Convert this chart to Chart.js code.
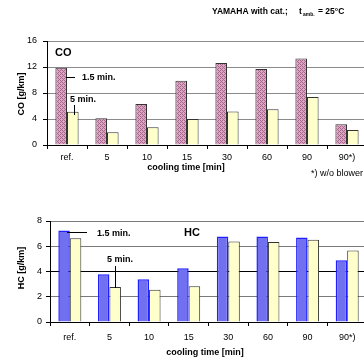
<!DOCTYPE html>
<html>
<head>
<meta charset="utf-8">
<script src="https://cdn.jsdelivr.net/npm/chart.js@4.4.1/dist/chart.umd.min.js"></script>
<style>
  body { margin: 0; background: #fff; overflow: hidden; width: 364px; height: 361px; position: relative; }
  canvas { position: absolute; left: 0; }
  #coChart { top: 0; }
  #hcChart { top: 180px; }
</style>
</head>
<body>
<canvas id="coChart" width="372" height="180"></canvas>
<canvas id="hcChart" width="372" height="181"></canvas>
<script>
// Data
const categories = ['ref.', '5', '10', '15', '30', '60', '90', '90*)'];
const co15 = [11.9, 4.1, 6.3, 9.9, 12.6, 11.7, 13.3, 3.2];
const co5 = [5.1, 1.95, 2.75, 4.0, 5.15, 5.5, 7.4, 2.3];
const hc15 = [7.24, 3.78, 3.39, 4.25, 6.77, 6.77, 6.69, 4.9];
const hc5 = [6.64, 2.78, 2.55, 2.83, 6.38, 6.33, 6.51, 5.67];
const coTicks = [0, 4, 8, 12, 16];
const hcTicks = [0, 2, 4, 6, 8];

const FONT = '"Liberation Sans", Arial, sans-serif';

// hatched pink fill like the original
function pinkPattern() {
    const c = document.createElement('canvas');
    c.width = 4; c.height = 4;
    const g = c.getContext('2d');
    g.fillStyle = '#dca6c2';
    g.fillRect(0, 0, 4, 4);
    g.fillStyle = '#a8678c';
    [[0, 0], [1, 1], [2, 2], [3, 3], [2, 0], [0, 2]].forEach(([x, y]) => g.fillRect(x, y, 1, 1));
    return g.createPattern(c, 'repeat');
}

function text(ctx, str, x, y, font, align) {
    ctx.font = font;
    ctx.textAlign = align || 'left';
    ctx.textBaseline = 'middle';
    ctx.fillStyle = '#000';
    ctx.fillText(str, x, y);
}

function line(ctx, x1, y1, x2, y2) {
    ctx.beginPath();
    ctx.moveTo(x1, y1);
    ctx.lineTo(x2, y2);
    ctx.strokeStyle = '#000';
    ctx.lineWidth = 1;
    ctx.stroke();
}

function vTitle(ctx, str, x, y) {
    ctx.save();
    ctx.translate(x, y);
    ctx.rotate(-Math.PI / 2);
    text(ctx, str, 0, 0, 'bold 9px ' + FONT, 'center');
    ctx.restore();
}

function baseOptions(yMax, step, tickVals, yWidth, xHeight, top, xPad, yPad, gridColor) {
    return {
        responsive: false,
        animation: false,
        layout: { padding: { top: top, right: 5, left: 0, bottom: 0 } },
        plugins: { legend: { display: false }, tooltip: { enabled: false } },
        scales: {
            x: {
                afterFit: s => { s.height = xHeight; },
                grid: { display: true, drawOnChartArea: false, offset: true, tickLength: 4, color: '#000' },
                border: { color: '#000', width: 1 },
                ticks: { color: '#000', padding: xPad, font: { family: FONT, size: 9 }, maxRotation: 0 }
            },
            y: {
                min: 0, max: yMax,
                afterFit: s => { s.width = yWidth; },
                afterBuildTicks: s => { s.ticks = tickVals.map(v => ({ value: v })); },
                grid: { color: gridColor, tickColor: '#000', tickLength: 4, lineWidth: 1 },
                border: { color: '#000', width: 1 },
                ticks: { stepSize: step, color: '#000', padding: yPad, font: { family: FONT, size: 9 } }
            }
        }
    };
}

// CO chart
const coNotes = {
    id: 'coNotes',
    afterDraw(chart) {
        const ctx = chart.ctx;
        const b = 'bold 9px ' + FONT;
        const h = 'bold 8.5px ' + FONT;
        text(ctx, 'YAMAHA with cat.;', 212, 12, h);
        text(ctx, 't', 299, 12, h);
        text(ctx, 'amb.', 303, 14.5, 'bold 5px ' + FONT);
        text(ctx, '= 25°C', 318, 12, h);
        text(ctx, 'CO', 55, 53, 'bold 11px ' + FONT);
        line(ctx, 66, 77.5, 75, 77.5);
        text(ctx, '1.5 min.', 82, 78, b);
        text(ctx, '5 min.', 70, 100, b);
        line(ctx, 74.5, 105, 74.5, 115);
        text(ctx, 'cooling time [min]', 186, 168, b, 'center');
        text(ctx, '*) w/o blower', 337, 174, '9px ' + FONT, 'center');
        vTitle(ctx, 'CO [g/km]', 22, 94);
    }
};

new Chart(document.getElementById('coChart'), {
    type: 'bar',
    data: {
        labels: categories,
        datasets: [
            { label: '1.5 min.', data: co15, backgroundColor: pinkPattern(), borderColor: '#333', borderWidth: 1,
              categoryPercentage: 0.58, barPercentage: 1.0 },
            { label: '5 min.', data: co5, backgroundColor: '#ffffcc', borderColor: '#333', borderWidth: 1,
              categoryPercentage: 0.58, barPercentage: 1.0 }
        ]
    },
    options: baseOptions(16, 4, coTicks, 47, 35, 41, 3, 6,
        c => c.tick && c.tick.value === 0 ? '#000' : '#8a8a8a'),
    plugins: [coNotes]
});

// HC chart
const hcNotes = {
    id: 'hcNotes',
    afterDraw(chart) {
        const ctx = chart.ctx;
        const b = 'bold 9px ' + FONT;
        line(ctx, 67, 52.5, 87, 52.5);
        text(ctx, '1.5 min.', 97, 53.5, b);
        text(ctx, 'HC', 184, 53, 'bold 11px ' + FONT);
        text(ctx, '5 min.', 107, 80, b);
        line(ctx, 115.5, 86, 115.5, 108);
        text(ctx, 'cooling time [min]', 205, 173, b, 'center');
        vTitle(ctx, 'HC [g/km]', 22, 88);
    }
};

new Chart(document.getElementById('hcChart'), {
    type: 'bar',
    data: {
        labels: categories,
        datasets: [
            { label: '1.5 min.', data: hc15, backgroundColor: '#7070f0', borderColor: '#2020ff', borderWidth: 1.5,
              categoryPercentage: 0.58, barPercentage: 1.0 },
            { label: '5 min.', data: hc5, backgroundColor: '#ffffcc', borderColor: '#333', borderWidth: 1,
              categoryPercentage: 0.58, barPercentage: 1.0 }
        ]
    },
    options: baseOptions(8, 2, hcTicks, 50, 39, 41, 6, 4,
        c => c.tick && (c.tick.value === 0 || c.tick.value === 4) ? '#000' : '#7a7a7a'),
    plugins: [hcNotes]
});
</script>
</body>
</html>
